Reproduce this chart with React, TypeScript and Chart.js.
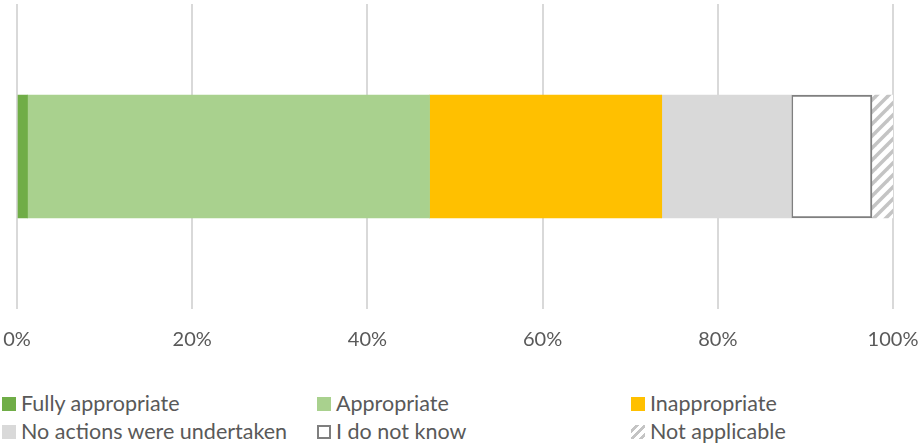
import React, { useEffect, useRef } from "react";
import { Chart, registerables } from "chart.js";

Chart.register(...registerables);

const categories = [""];
const seriesLabels = [
  "Fully appropriate",
  "Appropriate",
  "Inappropriate",
  "No actions were undertaken",
  "I do not know",
  "Not applicable",
];
const seriesValues = [1.2, 45.9, 26.5, 14.8, 9.2, 2.4];
const tickValues = [0, 20, 40, 60, 80, 100];

const FONT = "Lato, 'Open Sans', sans-serif";
const TEXT = "#595959";

function makeStripePattern(): CanvasPattern | string {
  const c = document.createElement("canvas");
  const s = 12;
  c.width = s;
  c.height = s;
  const ctx = c.getContext("2d");
  if (!ctx) return "#d0d0d0";
  ctx.fillStyle = "#ffffff";
  ctx.fillRect(0, 0, s, s);
  ctx.strokeStyle = "#c4c4c4";
  ctx.lineWidth = 3.5;
  ctx.lineCap = "square";
  for (const off of [-s, 0, s]) {
    ctx.beginPath();
    ctx.moveTo(off, s);
    ctx.lineTo(off + s, 0);
    ctx.stroke();
  }
  return ctx.createPattern(c, "repeat") || "#d0d0d0";
}

const legendIcon = (i: number): React.CSSProperties => {
  const base: React.CSSProperties = {
    position: "absolute",
    left: 0,
    top: 0,
    width: 14,
    height: 14,
    boxSizing: "border-box",
  };
  switch (i) {
    case 0:
      return { ...base, background: "#70AD47" };
    case 1:
      return { ...base, background: "#A9D18E" };
    case 2:
      return { ...base, background: "#FFC000" };
    case 3:
      return { ...base, background: "#D9D9D9" };
    case 4:
      return { ...base, background: "#fff", border: "2px solid #7F7F7F" };
    default:
      return {
        ...base,
        background:
          "repeating-linear-gradient(135deg, #ffffff 0px, #ffffff 3px, #c4c4c4 3px, #c4c4c4 6px)",
      };
  }
};

export default function App() {
  const ref = useRef<HTMLCanvasElement>(null);

  useEffect(() => {
    if (!ref.current) return;
    const stripe = makeStripePattern();
    const fills: (string | CanvasPattern)[] = [
      "#70AD47",
      "#A9D18E",
      "#FFC000",
      "#D9D9D9",
      "#FFFFFF",
      stripe,
    ];
    const chart = new Chart(ref.current, {
      type: "bar",
      data: {
        labels: categories,
        datasets: seriesLabels.map((label, i) => ({
          label,
          data: [seriesValues[i]],
          backgroundColor: fills[i],
          borderColor: i === 4 ? "#7F7F7F" : "rgba(0,0,0,0)",
          borderWidth: i === 4 ? 2 : 0,
          borderSkipped: false,
          barThickness: 123,
        })),
      },
      options: {
        indexAxis: "y",
        responsive: false,
        animation: false,
        maintainAspectRatio: false,
        layout: { padding: { left: 17, right: 26, top: 4, bottom: 0 } },
        plugins: {
          legend: { display: false },
          tooltip: { enabled: false },
          title: { display: false },
        },
        scales: {
          x: {
            stacked: true,
            min: 0,
            max: 100,
            afterBuildTicks: (axis: any) => {
              axis.ticks = tickValues.map((v) => ({ value: v }));
            },
            afterFit: (axis: any) => {
              axis.height = 61;
              axis.paddingLeft = 0;
              axis.paddingRight = 0;
            },
            grid: {
              color: "#D9D9D9",
              lineWidth: 2,
              drawTicks: false,
            },
            border: { display: false },
            ticks: {
              padding: 19,
              color: TEXT,
              font: { family: FONT, size: 20 },
              callback: (v: any) => v + "%",
            },
          },
          y: {
            stacked: true,
            display: false,
          },
        },
      },
    });
    return () => chart.destroy();
  }, []);

  const colX = [2, 317, 631];
  const rowY = [397, 425];

  return (
    <div
      style={{
        position: "fixed",
        left: 0,
        top: 0,
        width: 919,
        height: 443,
        background: "#fff",
        overflow: "hidden",
      }}
    >
      <canvas ref={ref} width={919} height={370} style={{ display: "block" }} />
      {seriesLabels.map((label, i) => (
        <div
          key={label}
          style={{
            position: "absolute",
            left: colX[i % 3],
            top: rowY[Math.floor(i / 3)],
            height: 14,
            whiteSpace: "nowrap",
          }}
        >
          <div style={legendIcon(i)} />
          <div
            style={{
              position: "absolute",
              left: 19,
              top: -8,
              fontFamily: FONT,
              fontSize: 21.5,
              lineHeight: "28px",
              color: TEXT,
            }}
          >
            {label}
          </div>
        </div>
      ))}
    </div>
  );
}
